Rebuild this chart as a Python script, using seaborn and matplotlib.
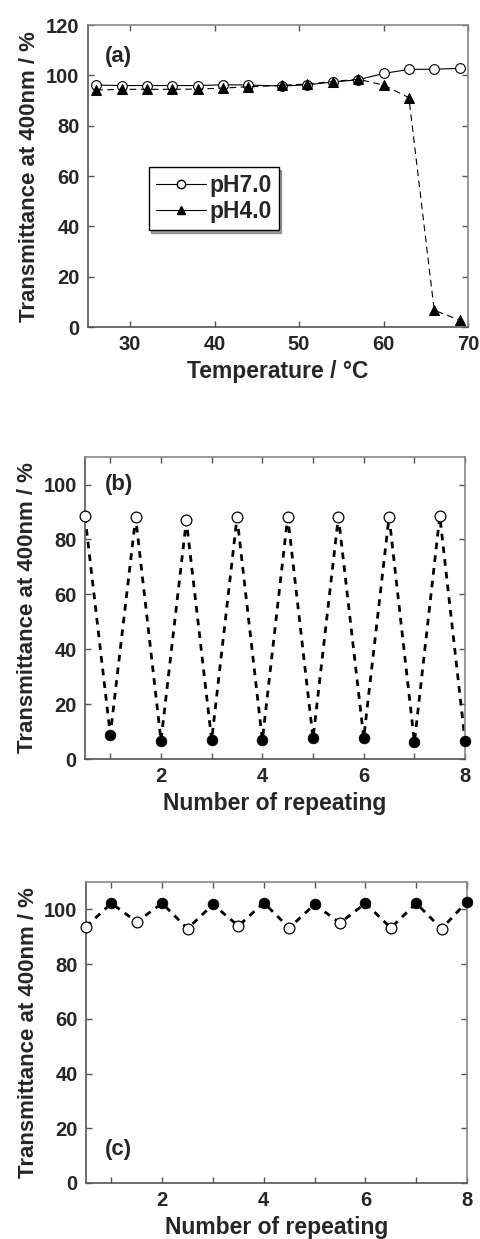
import matplotlib
matplotlib.use("Agg")
import matplotlib.pyplot as plt
from matplotlib.lines import Line2D
import pandas as pd
import seaborn as sns

# (a) transmittance vs temperature
temp = [26, 29, 32, 35, 38, 41, 44, 48, 51, 54, 57, 60, 63, 66, 69]
ph7 = [96.2, 96.0, 96.0, 96.0, 96.0, 96.3, 96.2, 95.8, 96.3, 97.4, 98.3, 100.8, 102.4, 102.5, 102.8]
ph4 = [94.2, 94.5, 94.5, 94.5, 94.6, 95.0, 95.5, 96.1, 96.6, 97.6, 98.5, 96.2, 91.2, 6.7, 2.8]

# (b) cycling at pH 4.0, open = low temperature, filled = high temperature
cyc_open_x = [0.5, 1.5, 2.5, 3.5, 4.5, 5.5, 6.5, 7.5]
cyc_fill_x = [1, 2, 3, 4, 5, 6, 7, 8]
b_open = [88.4, 88.0, 86.9, 88.0, 88.3, 88.3, 88.3, 88.5]
b_fill = [8.8, 6.7, 6.9, 6.9, 7.5, 7.7, 6.1, 6.4]

# (c) cycling at pH 7.0
c_open = [93.6, 95.4, 92.9, 93.9, 93.2, 95.0, 93.2, 92.9]
c_fill = [102.2, 102.2, 101.8, 102.4, 101.8, 102.2, 102.2, 102.8]

ylabel = "Transmittance at 400nm / %"

sns.set_theme(style="ticks")
plt.rcParams['font.family'] = ['Liberation Sans', 'DejaVu Sans']
plt.rcParams['font.weight'] = 'bold'
plt.rcParams['axes.labelweight'] = 'bold'

fig = plt.figure(figsize=(4.8, 12.39), dpi=100)
ax_a = fig.add_axes([0.183, 0.736, 0.792, 0.2437])
ax_b = fig.add_axes([0.177, 0.3874, 0.792, 0.2437])
ax_c = fig.add_axes([0.179, 0.0452, 0.794, 0.243])


def style_axes(ax):
    for side, sp in ax.spines.items():
        sp.set_color('#555555' if side in ('left', 'bottom') else '#888888')
        sp.set_linewidth(1.2)
    ax.tick_params(direction='in', top=True, right=True, length=4, width=1,
                   color='#555555', labelsize=14.5, pad=6)
    for lab in ax.get_xticklabels() + ax.get_yticklabels():
        lab.set_fontweight('bold')


# panel (a)
df_a = pd.DataFrame({'T': temp, 'pH7': ph7, 'pH4': ph4})
sns.lineplot(data=df_a, x='T', y='pH7', ax=ax_a, color='black', lw=0.8,
             marker='o', markersize=7, markerfacecolor='white',
             markeredgecolor='black', markeredgewidth=0.8)
sns.lineplot(data=df_a, x='T', y='pH4', ax=ax_a, color='black', lw=0.8,
             linestyle=(0, (6, 4)), marker='^', markersize=7,
             markerfacecolor='black', markeredgecolor='black')
ax_a.set_xlim(25, 70)
ax_a.set_ylim(0, 120)
ax_a.set_xticks([30, 40, 50, 60, 70])
ax_a.set_yticks([0, 20, 40, 60, 80, 100, 120])
ax_a.set_xlabel("Temperature / °C", fontsize=16.5, fontweight='bold', labelpad=4)
ax_a.set_ylabel(ylabel, fontsize=16, fontweight='bold', labelpad=4)
ax_a.text(0.045, 0.877, "(a)", transform=ax_a.transAxes, fontsize=16, fontweight='bold')
handles = [
    Line2D([], [], color='black', lw=0.8, marker='o', markersize=6,
           markerfacecolor='white', markeredgecolor='black'),
    Line2D([], [], color='black', lw=0.8, marker='^', markersize=6,
           markerfacecolor='black'),
]
leg = ax_a.legend(handles, ['pH7.0', 'pH4.0'], loc='upper left',
                  bbox_to_anchor=(0.16, 0.53), frameon=True, fancybox=False,
                  shadow=True, edgecolor='black', fontsize=16.5,
                  handlelength=2.2, handletextpad=0.15, borderpad=0.3,
                  labelspacing=0.15, borderaxespad=0)
leg.get_frame().set_linewidth(1.0)
for t in leg.get_texts():
    t.set_fontweight('bold')
style_axes(ax_a)


def cycle_panel(ax, open_y, fill_y, tag, tag_pos):
    xs = cyc_open_x + cyc_fill_x
    ys = open_y + fill_y
    df = pd.DataFrame({'n': xs, 'T': ys}).sort_values('n')
    sns.lineplot(data=df, x='n', y='T', ax=ax, color='black', lw=2.0,
                 linestyle=(0, (2.4, 2.2)), sort=True)
    sns.scatterplot(x=cyc_open_x, y=open_y, ax=ax, marker='o', s=60,
                    facecolor='white', edgecolor='black', linewidth=0.9,
                    zorder=4, clip_on=False)
    sns.scatterplot(x=cyc_fill_x, y=fill_y, ax=ax, marker='o', s=60,
                    color='black', edgecolor='black', linewidth=0.5,
                    zorder=4, clip_on=False)
    ax.set_xlim(0.5, 8)
    ax.set_ylim(0, 110)
    ax.set_xticks([1, 2, 3, 4, 5, 6, 7, 8])
    ax.set_xticklabels(['', '2', '', '4', '', '6', '', '8'])
    ax.set_yticks([0, 20, 40, 60, 80, 100])
    ax.set_xlabel("Number of repeating", fontsize=16.5, fontweight='bold', labelpad=4)
    ax.set_ylabel(ylabel, fontsize=16, fontweight='bold', labelpad=4)
    ax.text(tag_pos[0], tag_pos[1], tag, transform=ax.transAxes,
            fontsize=16, fontweight='bold')
    style_axes(ax)


cycle_panel(ax_b, b_open, b_fill, "(b)", (0.053, 0.89))
cycle_panel(ax_c, c_open, c_fill, "(c)", (0.05, 0.093))

fig.savefig("out.png", dpi=100)
